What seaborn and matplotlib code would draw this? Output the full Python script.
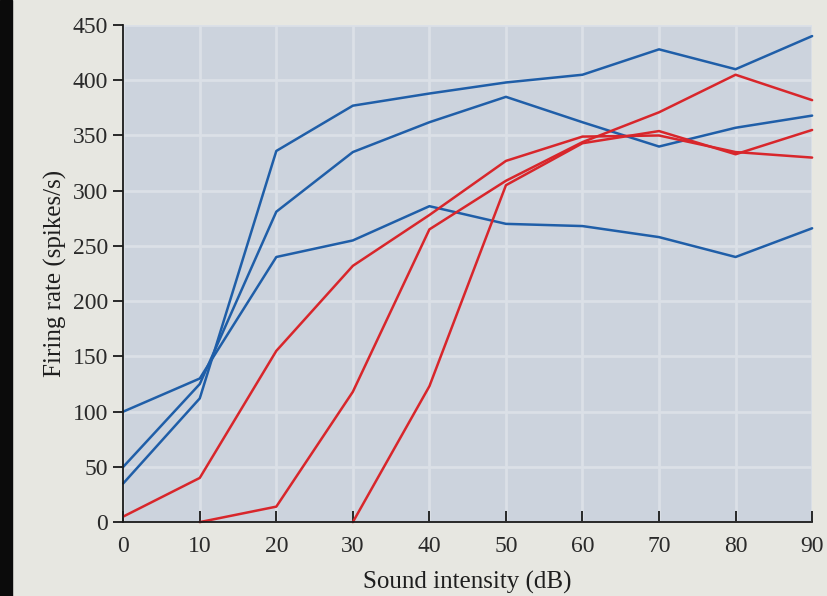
import numpy as np
import pandas as pd
import matplotlib
matplotlib.use("Agg")
import matplotlib.pyplot as plt
import seaborn as sns

# sound intensity (dB)
intensity = [0, 10, 20, 30, 40, 50, 60, 70, 80, 90]

# firing rates (spikes/s)
blue_low = [100, 130, 240, 255, 286, 270, 268, 258, 240, 266]
blue_mid = [50, 125, 281, 335, 362, 385, 362, 340, 357, 368]
blue_top = [35, 112, 336, 377, 388, 398, 405, 428, 410, 440]
red_first = [5, 40, 155, 232, 278, 327, 349, 350, 335, 330]
red_second = [np.nan, 0, 14, 118, 265, 309, 344, 371, 405, 382]
red_third = [np.nan, np.nan, np.nan, 0, 123, 305, 343, 354, 333, 355]

series = {
    "b1": blue_low, "b2": blue_mid, "b3": blue_top,
    "r1": red_first, "r2": red_second, "r3": red_third,
}
rows = []
for name, vals in series.items():
    for x, y in zip(intensity, vals):
        rows.append({"dB": x, "rate": y, "curve": name})
df = pd.DataFrame(rows).dropna()

blue = "#1f5ea8"
red = "#d8262b"
palette = {"b1": blue, "b2": blue, "b3": blue, "r1": red, "r2": red, "r3": red}

sns.set_style("white")
plt.rcParams["font.family"] = ["Liberation Serif", "DejaVu Serif"]

fig = plt.figure(figsize=(8.27, 5.96), dpi=100)
fig.patch.set_facecolor("#e7e7e1")
ax = fig.add_axes([0.149, 0.124, 0.833, 0.834])
ax.set_facecolor("#ccd3dd")

sns.lineplot(data=df, x="dB", y="rate", hue="curve", palette=palette,
             units="curve", estimator=None, linewidth=1.8, legend=False, ax=ax,
             clip_on=False)

ax.set_xlim(0, 90)
ax.set_ylim(0, 450)
ax.set_xticks(intensity)
ax.set_yticks(range(0, 451, 50))
ax.grid(True, color="#dbe0e7", linewidth=2.0)
ax.set_axisbelow(True)

for s in ["top", "right"]:
    ax.spines[s].set_visible(False)
for s in ["left", "bottom"]:
    ax.spines[s].set_color("#1a1a1a")
    ax.spines[s].set_linewidth(1.3)

ax.tick_params(axis="x", bottom=True, direction="in", length=8, width=1.3,
               labelsize=17, pad=10, colors="#1a1a1a", labelcolor="#2a2a2a")
ax.tick_params(axis="y", left=True, direction="out", length=7, width=1.3,
               labelsize=17, pad=4, colors="#1a1a1a", labelcolor="#2a2a2a")

ax.set_xlabel("Sound intensity (dB)", fontsize=18, color="#1e1e1e", labelpad=10)
ax.set_ylabel("Firing rate (spikes/s)", fontsize=18, color="#1e1e1e", labelpad=4)

# dark edge of the photographed page
fig.patches.append(plt.Rectangle((0, 0), 0.014, 1, transform=fig.transFigure,
                                 color="#0b0b0b", zorder=-1))

fig.savefig("out.png", dpi=100, facecolor=fig.get_facecolor())
